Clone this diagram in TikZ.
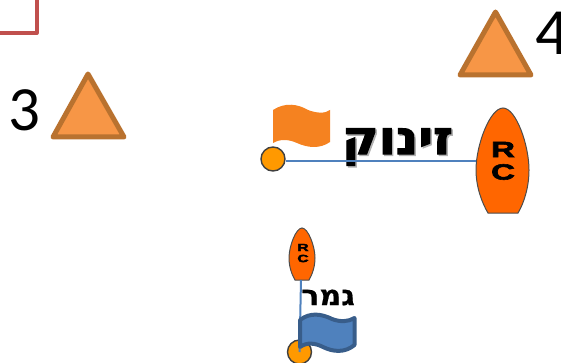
\documentclass[tikz,border=0pt]{standalone}
\usepackage{fontspec}
\setmainfont{Carlito}
\newfontfamily\hebfont[Script=Hebrew,BoldFeatures={FakeBold=2.2}]{DejaVu Sans}
\newfontfamily\hebfontb[Script=Hebrew,BoldFeatures={FakeBold=0.6}]{DejaVu Sans}
\newfontfamily\rcfont[BoldFeatures={FakeBold=2.5}]{Liberation Sans}
\TeXXeTstate=1
\definecolor{triFill}{HTML}{F79646}
\definecolor{triLine}{HTML}{B9722F}
\definecolor{boatFill}{HTML}{FF6600}
\definecolor{markFill}{HTML}{FF9900}
\definecolor{flagOrange}{HTML}{F58220}
\definecolor{flagBlue}{HTML}{4F81BD}
\definecolor{flagBlueLine}{HTML}{385D8A}
\definecolor{lineBlue}{HTML}{4F81BD}
\definecolor{redLine}{HTML}{C0504D}
\tikzset{
  tri/.style={draw=triLine,fill=triFill,line width=5pt,line join=round},
  num/.style={inner sep=0pt,anchor=center},
  markbuoy/.style={circle,draw=black!75,fill=markFill,line width=1.4pt,inner sep=0pt,minimum size=#1},
  conn/.style={draw=lineBlue,line width=2pt},
  boat/.style={draw=black!70,fill=boatFill,line width=1pt},
  anchorbox/.style={inner sep=0pt,minimum width=#1,minimum height=1pt},
  heb/.style={inner sep=0pt,anchor=center},
  rc/.style={inner sep=0pt,anchor=center,text=black}
}
\begin{document}
\begin{tikzpicture}[x=1pt,y=-1pt]
\useasboundingbox (0,0) rectangle (561,363);
\clip (0,0) rectangle (561,363);
% red corner
\draw[draw=redLine,line width=4pt,line join=round] (-5,33) -- (36.5,33) -- (36.5,-5);
% triangles
\draw[tri] (88,74) -- (124,137) -- (53,137) -- cycle;
\draw[tri] (495.5,12) -- (531,75) -- (460,75) -- cycle;
\node[num,font=\fontsize{63}{63}\selectfont] (three) at (24.5,110) {3};
\node[num,font=\fontsize{66}{66}\selectfont] (four) at (552,33) {4};
% start line
\draw[fill=flagOrange,draw=none] (273,110)
  .. controls (285,102) and (298,104) .. (308,110)
  .. controls (316,113) and (325,114) .. (330,110)
  -- (330,142)
  .. controls (320,149) and (308,148) .. (297,143)
  .. controls (288,139) and (280,139) .. (273,143) -- cycle;
\node[markbuoy=24pt] (startmark) at (273,159) {};
\path[boat] (503,108)
  .. controls (516,108) and (529,145) .. (529,170)
  .. controls (529,187) and (524,203) .. (518,213)
  -- (488,213)
  .. controls (482,203) and (476,187) .. (476,170)
  .. controls (476,145) and (490,108) .. (503,108) -- cycle;
\node[anchorbox=53pt] (bigboat) at (502.5,161.5) {};
\node[heb,text=black!30,xscale=1.06,font=\hebfont\bfseries\fontsize{47}{47}\selectfont] (zinukshadow) at (399,148.5) {\beginR זינוק\endR};
\node[heb,xscale=1.06,font=\hebfont\bfseries\fontsize{47}{47}\selectfont] (zinuk) at (397.5,147) {\beginR זינוק\endR};
\draw[conn] (startmark.east |- 0,161.5) -- (bigboat.west);
\node[rc,font=\rcfont\bfseries\fontsize{22}{22}\selectfont,xscale=1.5] (bigR) at (503,149.5) {R};
\node[rc,font=\rcfont\bfseries\fontsize{22}{22}\selectfont,xscale=1.5] (bigC) at (503,172) {C};
% finish line
\path[boat] (302,228)
  .. controls (308,228) and (315,246) .. (315,258)
  .. controls (315,267) and (312,275) .. (309,280)
  -- (295,280)
  .. controls (292,275) and (289,267) .. (289,258)
  .. controls (289,246) and (296,228) .. (302,228) -- cycle;
\node[anchorbox=26pt] (smallboat) at (301,280) {};
\node[rc,font=\rcfont\bfseries\fontsize{10.5}{10.5}\selectfont,xscale=1.5] (smallR) at (303,247.5) {R};
\node[rc,font=\rcfont\bfseries\fontsize{10.5}{10.5}\selectfont,xscale=1.5] (smallC) at (303,258.5) {C};
\node[markbuoy=24pt] (finishmark) at (299.5,352) {};
\draw[conn] (smallboat.center) -- (finishmark.center);
\node[heb,xscale=1.08,font=\hebfontb\bfseries\fontsize{28}{28}\selectfont] (gemar) at (328,297.5) {\beginR גמר\endR};
\draw[fill=flagBlue,draw=flagBlueLine,line width=4pt,line join=round] (300,320)
  .. controls (310,312) and (322,314) .. (332,319)
  .. controls (340,322) and (348,322) .. (354.5,318)
  -- (354.5,345)
  .. controls (345,353) and (333,352) .. (323,347)
  .. controls (315,343) and (307,342) .. (300,347) -- cycle;
\end{tikzpicture}
\end{document}
